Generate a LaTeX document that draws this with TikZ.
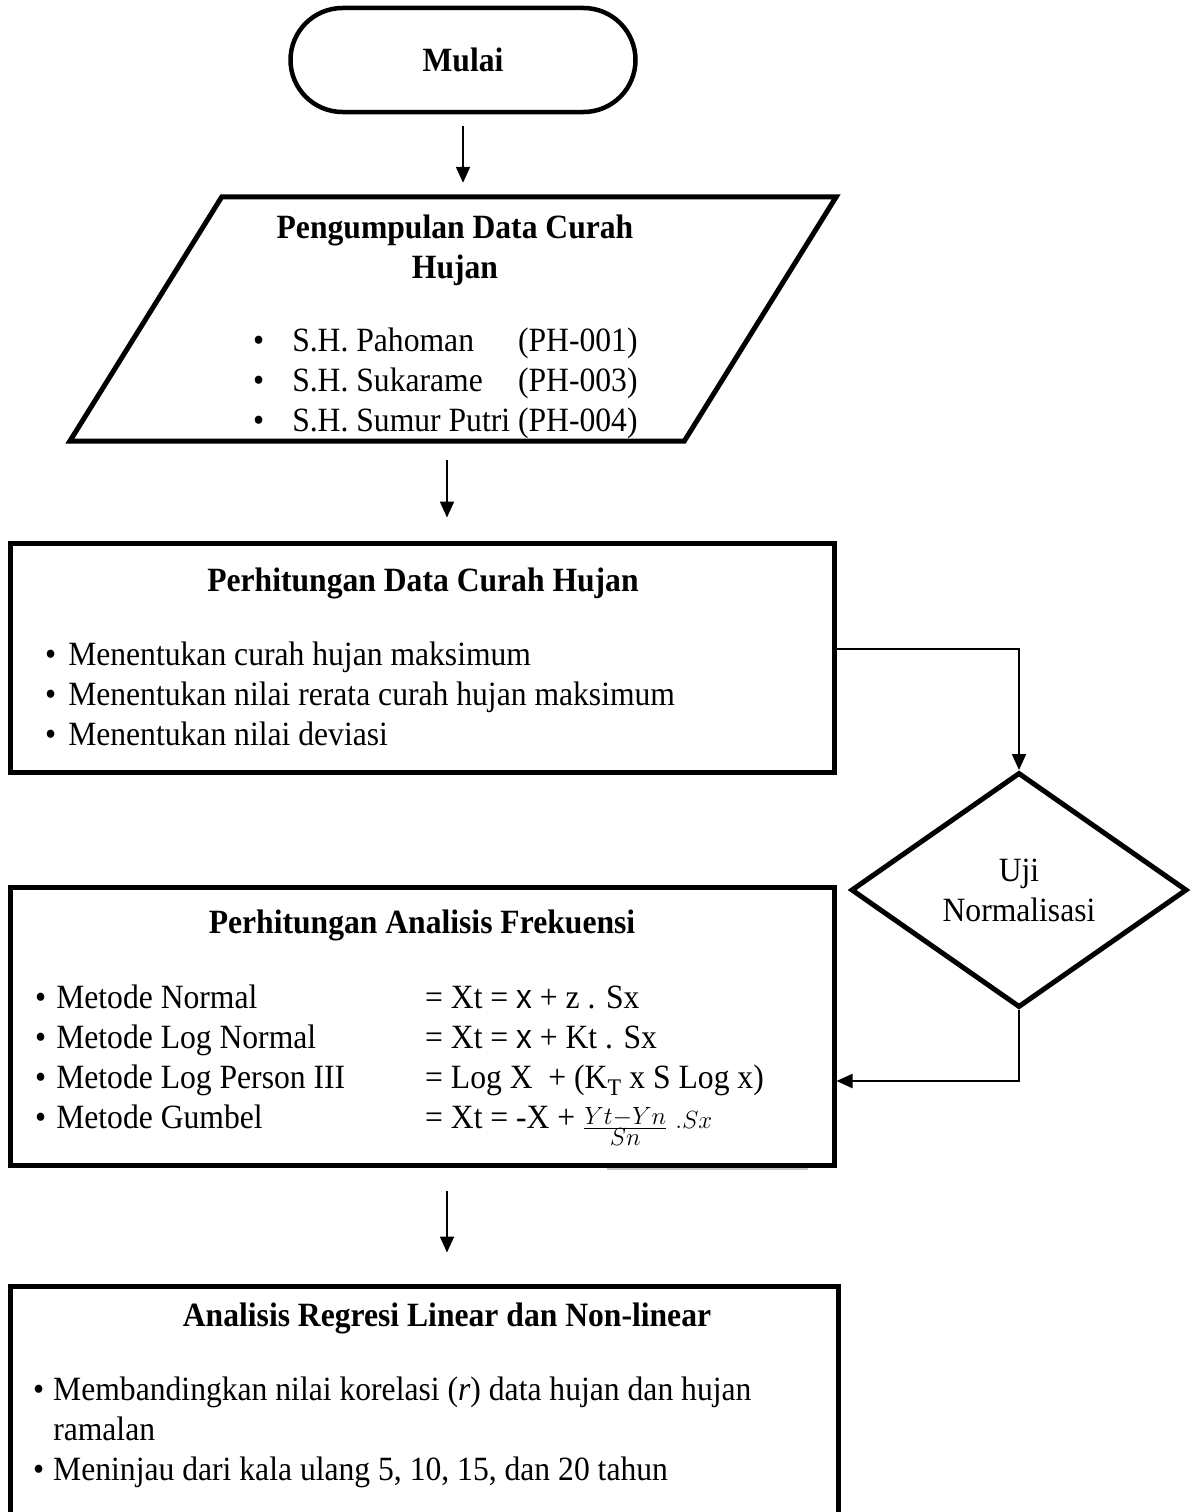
\documentclass[tikz,border=0pt]{standalone}
\usepackage{fontspec}
\setmainfont[FakeStretch=0.93]{Liberation Serif}
\setsansfont[FakeStretch=0.93]{Liberation Sans}
\usetikzlibrary{shapes.geometric,arrows.meta,positioning}

\tikzset{
  block/.style={draw, line width=5pt, minimum width=824pt, inner sep=0pt},
  txt/.style={inner sep=0pt},
  flow/.style={line width=2pt, -{Triangle[length=16pt,width=14pt]}}
}

\begin{document}
\begin{tikzpicture}[x=1pt, y=-1pt, font=\fontsize{34}{40}\selectfont]
  \useasboundingbox (0,0) rectangle (1195,1512);
  \clip (0,0) rectangle (1195,1512);

  % Start
  \node[draw, line width=4.5pt, rounded corners=52pt, minimum width=345pt,
        minimum height=104pt] (mulai) at (463,60) {\textbf{Mulai}};

  % Input data (parallelogram round the body of the node)
  \node[minimum width=614pt, minimum height=244pt, inner sep=0pt] (kumpul) at (453,319) {};
  \draw[line width=5pt, line join=miter]
    ([xshift=-76pt]kumpul.south west) -- ([xshift=76pt]kumpul.north west)
    -- ([xshift=76pt]kumpul.north east) -- ([xshift=-76pt]kumpul.south east) -- cycle;
  \node[txt, align=center] (kumpul-judul) at (455,250)
    {\bfseries Pengumpulan Data Curah\\\bfseries Hujan};
  \node[txt, anchor=north west] (kumpul-isi) at (253,323) {%
    \begin{tabular}{@{}l@{\hspace{28pt}}l@{\hspace{8pt}}l@{}}
      • & S.H. Pahoman & (PH-001)\\
      • & S.H. Sukarame & (PH-003)\\
      • & S.H. Sumur Putri & (PH-004)
    \end{tabular}};

  % Rainfall calculation
  \node[block, minimum height=229pt] (hitung) at (422,657.5) {};
  \node[txt] (hitung-judul) at (423,583) {\bfseries Perhitungan Data Curah Hujan};
  \node[txt, anchor=north west] (hitung-isi) at (45,637) {%
    \begin{tabular}{@{}l@{\hspace{12pt}}l@{}}
      • & Menentukan curah hujan maksimum\\
      • & Menentukan nilai rerata curah hujan maksimum\\
      • & Menentukan nilai deviasi
    \end{tabular}};

  % Decision
  \node[diamond, draw, line width=5pt, minimum width=336pt, minimum height=235pt,
        inner sep=0pt, align=center] (uji) at (1019,890) {Uji\\Normalisasi};

  % Frequency analysis
  \node[block, minimum height=278pt] (frek) at (422,1026) {};
  \node[txt] (frek-judul) at (422,925) {\bfseries Perhitungan Analisis Frekuensi};
  \node[txt, anchor=north west] (frek-isi) at (35,980) {%
    \begin{tabular}{@{}l@{\hspace{10pt}}l@{}}
      • & Metode Normal\\
      • & Metode Log Normal\\
      • & Metode Log Person III\\
      • & Metode Gumbel
    \end{tabular}};
  \node[txt, anchor=north west] (frek-rumus) at (425,980) {%
    \begin{tabular}{@{}l@{}}
      = Xt = \textsf{x} + z . Sx\\
      = Xt = \textsf{x} + Kt . Sx\\
      = Log X\ \ + (K\textsubscript{T} x S Log x)\\
      = Xt = -X + \raisebox{-6pt}{\smash{$\frac{Yt-Yn}{Sn}$}} $.Sx$
    \end{tabular}};
  \draw[gray!45, line width=2.5pt] (607,1169) -- (808,1169);

  % Regression
  \node[block, minimum width=828pt, minimum height=260pt] (regresi) at (424,1416) {};
  \node[txt] (regresi-judul) at (447,1318) {\bfseries Analisis Regresi Linear dan Non-linear};
  \node[txt, anchor=north west] (regresi-isi) at (33,1372) {%
    \begin{tabular}{@{}l@{\hspace{9pt}}l@{}}
      • & Membandingkan nilai korelasi (\textit{r}) data hujan dan hujan\\
        & ramalan\\
      • & Meninjau dari kala ulang 5, 10, 15, dan 20 tahun
    \end{tabular}};

  % Arrows
  \draw[flow, shorten <=12pt, shorten >=14pt] (mulai.south) -- (mulai.south |- kumpul.north);
  \draw[flow, shorten <=19pt, shorten >=23pt] ([xshift=-6pt]kumpul.south) -- ([xshift=-6pt]kumpul.south |- hitung.north);
  \draw[flow] ([yshift=8.5pt]hitung.east) -| (uji.north);
  \draw[flow] (uji.south) |- ([yshift=-55pt]frek.east);
  \draw[flow, shorten <=23pt, shorten >=31pt] ([xshift=25pt]frek.south) -- ([xshift=25pt]frek.south |- regresi.north);
\end{tikzpicture}
\end{document}
